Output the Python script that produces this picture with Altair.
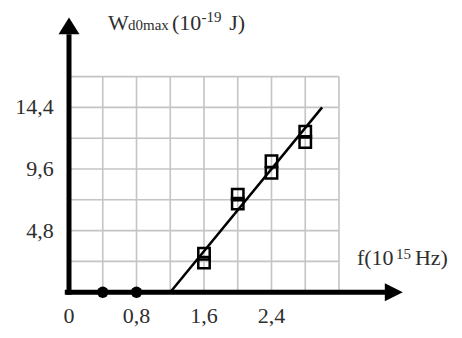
import altair as alt
import pandas as pd

# ---- data ----
grid_f = [0.4, 0.8, 1.2, 1.6, 2.0, 2.4, 2.8, 3.2]
grid_w = [2.4, 4.8, 7.2, 9.6, 12.0, 14.4, 16.8]
x_ticks = [0.0, 0.8, 1.6, 2.4]
x_tick_labels = ["0", "0,8", "1,6", "2,4"]
y_ticks = [4.8, 9.6, 14.4]
y_tick_labels = ["4,8", "9,6", "14,4"]
meas_f = [1.6, 1.6, 2.0, 2.0, 2.4, 2.4, 2.8, 2.8]
meas_w = [3.0, 2.3, 7.6, 6.9, 10.2, 9.3, 12.5, 11.7]
dot_f = [0.4, 0.8]
dot_w = [0.0, 0.0]
fit_f = [1.2, 3.0]
fit_w = [0.0, 14.4]

FONT = "Liberation Serif"
TXT = "#2e2e2e"
XS = alt.Scale(domain=[0, 4.0], nice=False, zero=False)
YS = alt.Scale(domain=[0, 21.6], nice=False, zero=False)


def X(field="f"):
    return alt.X(f"{field}:Q", scale=XS, axis=None)


def Y(field="W"):
    return alt.Y(f"{field}:Q", scale=YS, axis=None)


# grid
vgrid = alt.Chart(pd.DataFrame({"f": grid_f, "W": [0.0] * len(grid_f), "W2": [16.8] * len(grid_f)})).mark_rule(
    color="#c4c4c4", strokeWidth=1.6
).encode(x=X(), y=Y(), y2="W2:Q")
hgrid = alt.Chart(pd.DataFrame({"W": grid_w, "f": [0.0] * len(grid_w), "f2": [3.2] * len(grid_w)})).mark_rule(
    color="#c4c4c4", strokeWidth=1.6
).encode(y=Y(), x=X(), x2="f2:Q")

# axes lines
xaxis = alt.Chart(pd.DataFrame({"f": [-0.05], "f2": [3.76], "W": [0.0]})).mark_rule(
    color="black", strokeWidth=5
).encode(x=X(), x2="f2:Q", y=Y())
yaxis = alt.Chart(pd.DataFrame({"f": [0.0], "W": [-0.2], "W2": [20.1]})).mark_rule(
    color="black", strokeWidth=5
).encode(x=X(), y=Y(), y2="W2:Q")

# arrow heads
yarrow = alt.Chart(pd.DataFrame({"f": [0.0], "W": [20.75]})).mark_point(
    shape="M0,-0.8L1,0.8L-1,0.8Z", filled=True, color="black", opacity=1, size=441
).encode(x=X(), y=Y())
xarrow = alt.Chart(pd.DataFrame({"f": [3.85], "W": [0.0]})).mark_point(
    shape="M1,0L-1,-1L-1,1Z", filled=True, color="black", opacity=1, size=324
).encode(x=X(), y=Y())

# fit line
fit = alt.Chart(pd.DataFrame({"f": fit_f, "W": fit_w})).mark_line(
    color="black", strokeWidth=2.5
).encode(x=X(), y=Y())

# measurement squares
squares = alt.Chart(pd.DataFrame({"f": meas_f, "W": meas_w})).mark_point(
    shape="square", filled=False, color="black", strokeWidth=2.5, size=130, opacity=1
).encode(x=X(), y=Y())

# dots on axis
dots = alt.Chart(pd.DataFrame({"f": dot_f, "W": dot_w})).mark_point(
    shape="circle", filled=True, color="black", size=130, opacity=1
).encode(x=X(), y=Y())

# tick labels
xlab = alt.Chart(pd.DataFrame({"f": x_ticks, "W": [-2.42] * len(x_ticks), "t": x_tick_labels})).mark_text(
    font=FONT, fontSize=22, color=TXT, align="center", baseline="alphabetic"
).encode(x=X(), y=Y(), text="t:N")
ylab = alt.Chart(pd.DataFrame({"W": y_ticks, "f": [-0.18] * len(y_ticks), "t": y_tick_labels})).mark_text(
    font=FONT, fontSize=22, color=TXT, align="right", baseline="middle"
).encode(x=X(), y=Y(), text="t:N")

# axis titles (pieces for sub/superscripts)
big_pieces = pd.DataFrame({
    "t": ["W", "(10", "J)", "f(10", "Hz)"],
    "f": [0.462, 1.22, 1.90, 3.413, 4.10],
    "W": [20.47, 20.47, 20.47, 2.10, 2.10],
})
small_pieces = pd.DataFrame({
    "t": ["d0max", "-19", "15"],
    "f": [0.70, 1.57, 3.876],
    "W": [20.42, 21.05, 2.57],
})
big_txt = alt.Chart(big_pieces).mark_text(
    font=FONT, fontSize=22, color=TXT, align="left", baseline="alphabetic"
).encode(x=X(), y=Y(), text="t:N")
small_txt = alt.Chart(small_pieces).mark_text(
    font=FONT, fontSize=15, color=TXT, align="left", baseline="alphabetic"
).encode(x=X(), y=Y(), text="t:N")

chart = alt.layer(
    vgrid, hgrid, fit, squares, xaxis, yaxis, yarrow, xarrow, dots, xlab, ylab, big_txt, small_txt
).properties(
    width=337.5,
    height=277.2,
    autosize=alt.AutoSizeParams(type="none"),
    padding={"left": 61, "top": 7, "right": 47, "bottom": 35},
    background="white",
).configure_view(stroke=None)

chart.save("out.html", embed_options={"renderer": "svg", "actions": False})
